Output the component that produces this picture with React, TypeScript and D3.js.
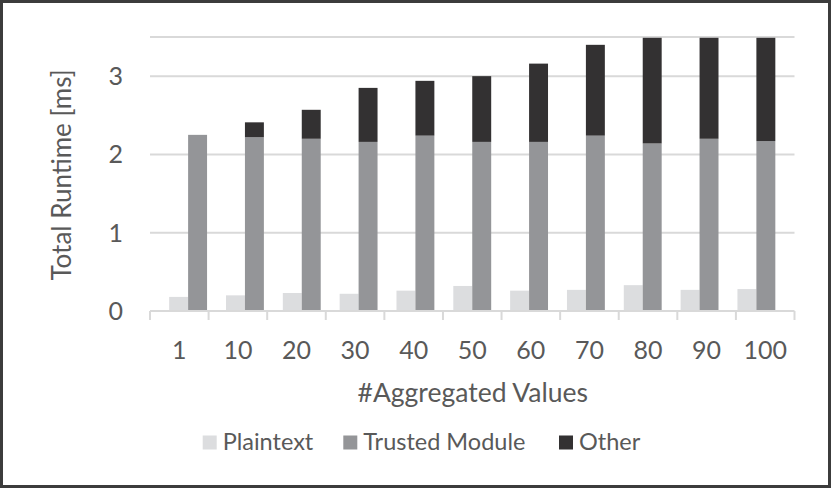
import { useEffect, useRef } from 'react';
import * as d3 from 'd3';

// Chart data
const categories = ['1', '10', '20', '30', '40', '50', '60', '70', '80', '90', '100'];
const plaintext = [0.18, 0.2, 0.23, 0.22, 0.26, 0.32, 0.26, 0.27, 0.33, 0.27, 0.28];
const trustedModule = [2.25, 2.22, 2.2, 2.16, 2.24, 2.16, 2.16, 2.24, 2.14, 2.2, 2.17];
const other = [0, 0.19, 0.37, 0.69, 0.7, 0.84, 1.0, 1.16, 1.35, 1.29, 1.32];
const yTicks = [0, 1, 2, 3];
const gridValues = [1, 2, 3, 3.5];

const seriesNames = ['Plaintext', 'Trusted Module', 'Other'];
const seriesColors = ['#dcdddf', '#949598', '#333132'];

const FONT = 'Lato, "Open Sans", sans-serif';
const TEXT = '#595959';

export default function App() {
    const svgRef = useRef<SVGSVGElement>(null);

    useEffect(() => {
        if (!svgRef.current) return;
        const svg = d3.select(svgRef.current);
        svg.selectAll('*').remove();

        const width = 831;
        const height = 488;
        const left = 150, right = 794.5, top = 37, bottom = 311;

        // outer frame
        svg.append('rect')
            .attr('x', 1.5).attr('y', 1.5)
            .attr('width', width - 3).attr('height', height - 3)
            .attr('fill', '#fff')
            .attr('stroke', '#3c3c3c')
            .attr('stroke-width', 3);

        const x = d3.scaleBand().domain(categories).range([left, right]);
        // bars sit on a slightly narrower pitch than the category ticks
        const xBars = d3.scaleBand().domain(categories).range([left + 9.7, right - 9.7]);
        const inner = d3.scaleBand().domain(['plain', 'stack']).range([0, xBars.bandwidth()]).paddingOuter(0.5);
        const y = d3.scaleLinear().domain([0, 3.5]).range([bottom, top]);

        // gridlines
        svg.append('g')
            .selectAll('line')
            .data(gridValues)
            .enter()
            .append('line')
            .attr('x1', left).attr('x2', right)
            .attr('y1', d => y(d)).attr('y2', d => y(d))
            .attr('stroke', '#d9d9d9')
            .attr('stroke-width', 2);

        // y tick labels
        svg.append('g')
            .selectAll('text')
            .data(yTicks)
            .enter()
            .append('text')
            .attr('x', 123)
            .attr('y', d => y(d) + 9)
            .attr('text-anchor', 'end')
            .attr('fill', TEXT)
            .attr('font-family', FONT)
            .attr('font-size', 25)
            .text(d => d);

        const rows = categories.map((c, i) => ({
            c,
            plain: plaintext[i],
            trusted: trustedModule[i],
            other: other[i],
        }));

        // plaintext bars
        svg.append('g')
            .selectAll('rect')
            .data(rows)
            .enter()
            .append('rect')
            .attr('x', d => (xBars(d.c) || 0) + (inner('plain') || 0))
            .attr('width', inner.bandwidth())
            .attr('y', d => y(d.plain))
            .attr('height', d => y(0) - y(d.plain))
            .attr('fill', seriesColors[0]);

        // trusted module + other stacked
        const stack = d3.stack<any>().keys(['trusted', 'other'])(rows);
        stack.forEach((layer, li) => {
            svg.append('g')
                .selectAll('rect')
                .data(layer)
                .enter()
                .append('rect')
                .attr('x', d => (xBars(d.data.c) || 0) + (inner('stack') || 0))
                .attr('width', inner.bandwidth())
                .attr('y', d => y(d[1]))
                .attr('height', d => y(d[0]) - y(d[1]))
                .attr('fill', seriesColors[li + 1]);
        });

        // x axis line + ticks at category boundaries
        const axis = svg.append('g');
        axis.append('line')
            .attr('x1', left).attr('x2', right)
            .attr('y1', bottom).attr('y2', bottom)
            .attr('stroke', '#d9d9d9')
            .attr('stroke-width', 2);
        const bounds = categories.map(c => x(c) || 0).concat([right]);
        axis.selectAll('.tick')
            .data(bounds)
            .enter()
            .append('line')
            .attr('x1', d => d).attr('x2', d => d)
            .attr('y1', bottom).attr('y2', bottom + 9)
            .attr('stroke', '#d9d9d9')
            .attr('stroke-width', 2);

        // x tick labels
        svg.append('g')
            .selectAll('text')
            .data(categories)
            .enter()
            .append('text')
            .attr('x', d => (x(d) || 0) + x.bandwidth() / 2)
            .attr('y', 358.5)
            .attr('text-anchor', 'middle')
            .attr('fill', TEXT)
            .attr('font-family', FONT)
            .attr('font-size', 25)
            .text(d => d);

        // axis titles
        svg.append('text')
            .attr('x', (left + right) / 2 + 0.5)
            .attr('y', 402)
            .attr('text-anchor', 'middle')
            .attr('fill', TEXT)
            .attr('font-family', FONT)
            .attr('font-size', 26.5)
            .text('#Aggregated Values');

        svg.append('text')
            .attr('transform', `translate(70.5,${(top + bottom) / 2 + 1}) rotate(-90)`)
            .attr('text-anchor', 'middle')
            .attr('fill', TEXT)
            .attr('font-family', FONT)
            .attr('font-size', 26)
            .text('Total Runtime [ms]');

        // legend
        const legendX = [202.7, 343.3, 559];
        const legend = svg.append('g');
        seriesNames.forEach((name, i) => {
            legend.append('rect')
                .attr('x', legendX[i]).attr('y', 435.5)
                .attr('width', 14).attr('height', 14)
                .attr('fill', seriesColors[i]);
            legend.append('text')
                .attr('x', legendX[i] + 20)
                .attr('y', 449.5)
                .attr('fill', TEXT)
                .attr('font-family', FONT)
                .attr('font-size', 23.5)
                .text(name);
        });
    }, []);

    return (
        <svg
            ref={svgRef}
            width={831}
            height={488}
            style={{ position: 'absolute', left: 0, top: 0 }}
        />
    );
}
